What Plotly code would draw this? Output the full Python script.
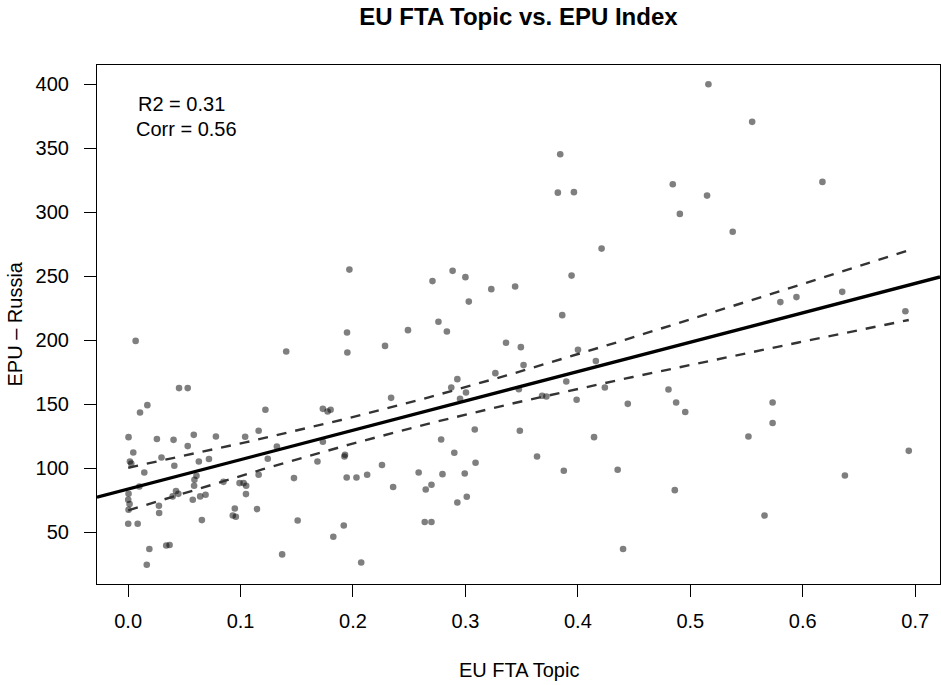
import numpy as np
import plotly.graph_objects as go

# EU FTA topic share (x) and Russia EPU index (y), one point per observation
fta_topic = [
    0.1968, 0.0067, 0.1406, 0.1947, 0.1950, 0.2285, 0.0453, 0.0530,
    0.3843, 0.3822, 0.3965, 0.4844, 0.4907, 0.4211, 0.2886, 0.2707, 0.3000, 0.3230,
    0.3442, 0.3030, 0.3944, 0.3861, 0.2489, 0.2760, 0.2835, 0.3361, 0.3493, 0.4001,
    0.3517, 0.4160, 0.3266, 0.2928, 0.2874, 0.3897, 0.4240, 0.4806,
    0.5377, 0.5801, 0.5944, 0.6351, 0.6913,
    0.5161, 0.5550, 0.5149, 0.6175,
    0.4874, 0.4955, 0.5732, 0.5732, 0.5517, 0.6943, 0.6375, 0.4862, 0.5660,
    0.2339, 0.2952, 0.3005, 0.3475, 0.3682, 0.3720, 0.3989, 0.4444, 0.2784, 0.3083,
    0.3484, 0.4144, 0.2901, 0.3090, 0.3637, 0.2258, 0.2584, 0.2796, 0.2994, 0.3875,
    0.4354, 0.2357, 0.2647, 0.2698, 0.2928, 0.3012, 0.2638, 0.2698, 0.4402,
    0.0171, 0.0106, 0.1221, 0.1732, 0.1774, 0.1801, 0.0004, 0.0256, 0.0404, 0.0584,
    0.0781, 0.1041, 0.1161, 0.0530, 0.0046, 0.0297, 0.0016, 0.0028, 0.0144, 0.0411,
    0.0629, 0.0719, 0.1242, 0.1323, 0.1684, 0.1732, 0.1929, 0.1924, 0.0100, 0.0004,
    0.0001, 0.0013, 0.0004, 0.0001, 0.0085, 0.0166, 0.0189, 0.0274, 0.0276, 0.0339,
    0.0369, 0.0396, 0.0426, 0.0447, 0.0608, 0.0590, 0.0587, 0.0575, 0.0641, 0.0689,
    0.0656, 0.0848, 0.0991, 0.1027, 0.1050, 0.1048, 0.0949, 0.0931, 0.0958, 0.1146,
    0.1161, 0.1475, 0.1508, 0.1370, 0.1825, 0.1918, 0.1944, 0.2031, 0.2126, 0.2073,
]
epu_russia = [
    255.2, 199.5, 191.2, 206.0, 190.4, 195.6, 162.6, 162.6,
    345.3, 315.3, 315.7, 321.9, 298.7, 271.6, 254.2, 246.2, 249.3, 239.9,
    242.0, 230.2, 250.5, 219.6, 207.9, 214.4, 206.8, 198.0, 194.6, 192.5,
    180.6, 183.7, 174.3, 169.6, 163.1, 167.8, 163.1, 161.5,
    284.7, 229.8, 233.7, 237.8, 222.7,
    400.0, 370.6, 313.0, 323.7,
    151.4, 143.9, 151.4, 135.3, 124.8, 113.6, 94.4, 82.9, 63.1,
    155.0, 154.2, 159.2, 161.8, 156.6, 156.0, 153.5, 150.3, 122.5, 130.3,
    129.3, 124.3, 112.1, 104.3, 109.2, 102.5, 96.7, 95.4, 95.9, 98.0,
    98.8, 85.3, 83.4, 87.1, 73.3, 77.7, 58.0, 58.0, 36.9,
    149.3, 143.6, 145.7, 146.4, 144.3, 145.7, 124.3, 122.8, 122.2, 126.1,
    124.8, 124.6, 129.3, 117.3, 112.3, 108.4, 105.3, 103.7, 96.7, 101.9,
    105.3, 107.2, 107.4, 117.0, 105.3, 120.7, 110.5, 109.2, 85.8, 80.1,
    75.4, 72.0, 67.6, 56.6, 56.6, 24.6, 36.9, 70.7, 65.0, 39.7,
    40.0, 78.0, 82.2, 80.0, 94.1, 91.0, 86.3, 75.4, 78.0, 79.3,
    59.5, 89.4, 88.4, 88.4, 86.3, 79.8, 68.6, 63.1, 62.1, 68.1,
    94.9, 92.3, 59.2, 32.7, 46.5, 55.3, 92.8, 92.8, 94.9, 26.4,
]

x_ticks = [0.0, 0.1, 0.2, 0.3, 0.4, 0.5, 0.6, 0.7]
x_tick_labels = ["0.0", "0.1", "0.2", "0.3", "0.4", "0.5", "0.6", "0.7"]
y_ticks = [50, 100, 150, 200, 250, 300, 350, 400]

r2_value = 0.31
corr_value = 0.56

x = np.asarray(fta_topic)
y = np.asarray(epu_russia)
n = len(x)

# Ordinary least squares fit with 95% confidence band for the mean
slope, intercept = np.polyfit(x, y, 1)
resid = y - (intercept + slope * x)
s = np.sqrt(np.sum(resid ** 2) / (n - 2))
xbar = x.mean()
sxx = np.sum((x - xbar) ** 2)
z = 1.959964
nu = n - 2
t_crit = z + (z ** 3 + z) / (4 * nu) + (5 * z ** 5 + 16 * z ** 3 + 3 * z) / (96 * nu ** 2)

x_band = np.linspace(x.min(), x.max(), 100)
fit_band = intercept + slope * x_band
half = t_crit * s * np.sqrt(1.0 / n + (x_band - xbar) ** 2 / sxx)

# Axis limits padded 4% either side of the data range
def padded(lo, hi):
    d = hi - lo
    return [lo - 0.04 * d, hi + 0.04 * d]

xr = padded(x.min(), x.max())
yr = padded(y.min(), y.max())
x_line = np.array(xr)

fig = go.Figure()
fig.add_trace(go.Scatter(
    x=x, y=y, mode="markers",
    marker=dict(size=6.6, color="rgba(0,0,0,0.5)", line=dict(width=0)),
    hoverinfo="x+y", showlegend=False,
))
fig.add_trace(go.Scatter(
    x=x_line, y=intercept + slope * x_line, mode="lines",
    line=dict(color="black", width=3.3), showlegend=False,
))
for sign in (1, -1):
    fig.add_trace(go.Scatter(
        x=x_band, y=fit_band + sign * half, mode="lines",
        line=dict(color="#333333", width=2.4, dash="10px,9px"), showlegend=False,
    ))

L, R, T, B = 97, 940, 65, 584
W, H = 941, 685

def px(xp):
    return (xp - L) / (R - L)

def py(yp):
    return (B - yp) / (B - T)

font = "Liberation Sans, Arial, Helvetica, sans-serif"

fig.update_layout(
    width=W, height=H,
    margin=dict(l=L, r=W - R, t=T, b=H - B),
    paper_bgcolor="white", plot_bgcolor="white",
    font=dict(family=font, size=20, color="black"),
    title=dict(text="<b>EU FTA Topic vs. EPU Index</b>", x=px(518.5), xref="paper",
               y=1 - 17 / H, yanchor="middle", xanchor="center",
               font=dict(size=24, family=font, color="black")),
    xaxis=dict(range=xr, tickvals=x_ticks, ticktext=x_tick_labels,
               showgrid=False, zeroline=False, showline=True, mirror=True,
               linecolor="black", linewidth=1.2, ticks="outside", ticklen=12,
               tickwidth=1.2, tickcolor="black", ticklabelstandoff=7,
               tickfont=dict(size=20, family=font, color="black")),
    yaxis=dict(range=yr, tickvals=y_ticks, showgrid=False, zeroline=False,
               showline=True, mirror=True, linecolor="black", linewidth=1.2,
               ticks="outside", ticklen=12, tickwidth=1.2, tickcolor="black",
               ticklabelstandoff=11,
               tickfont=dict(size=20, family=font, color="black")),
    annotations=[
        dict(text="EU FTA Topic", xref="paper", yref="paper", x=px(518.5), y=py(670),
             xanchor="center", yanchor="middle", showarrow=False,
             font=dict(size=20, family=font, color="black")),
        dict(text="EPU \u2013 Russia", xref="paper", yref="paper", x=px(14), y=py(324.5),
             xanchor="center", yanchor="middle", textangle=-90, showarrow=False,
             font=dict(size=20, family=font, color="black")),
        dict(text=f"R2 = {r2_value:.2f}", xref="paper", yref="paper", x=px(136), y=py(104),
             xanchor="left", yanchor="middle", showarrow=False,
             font=dict(size=20, family=font, color="black")),
        dict(text=f"Corr = {corr_value:.2f}", xref="paper", yref="paper", x=px(134), y=py(129),
             xanchor="left", yanchor="middle", showarrow=False,
             font=dict(size=20, family=font, color="black")),
    ],
)

fig.write_html("out.html")
